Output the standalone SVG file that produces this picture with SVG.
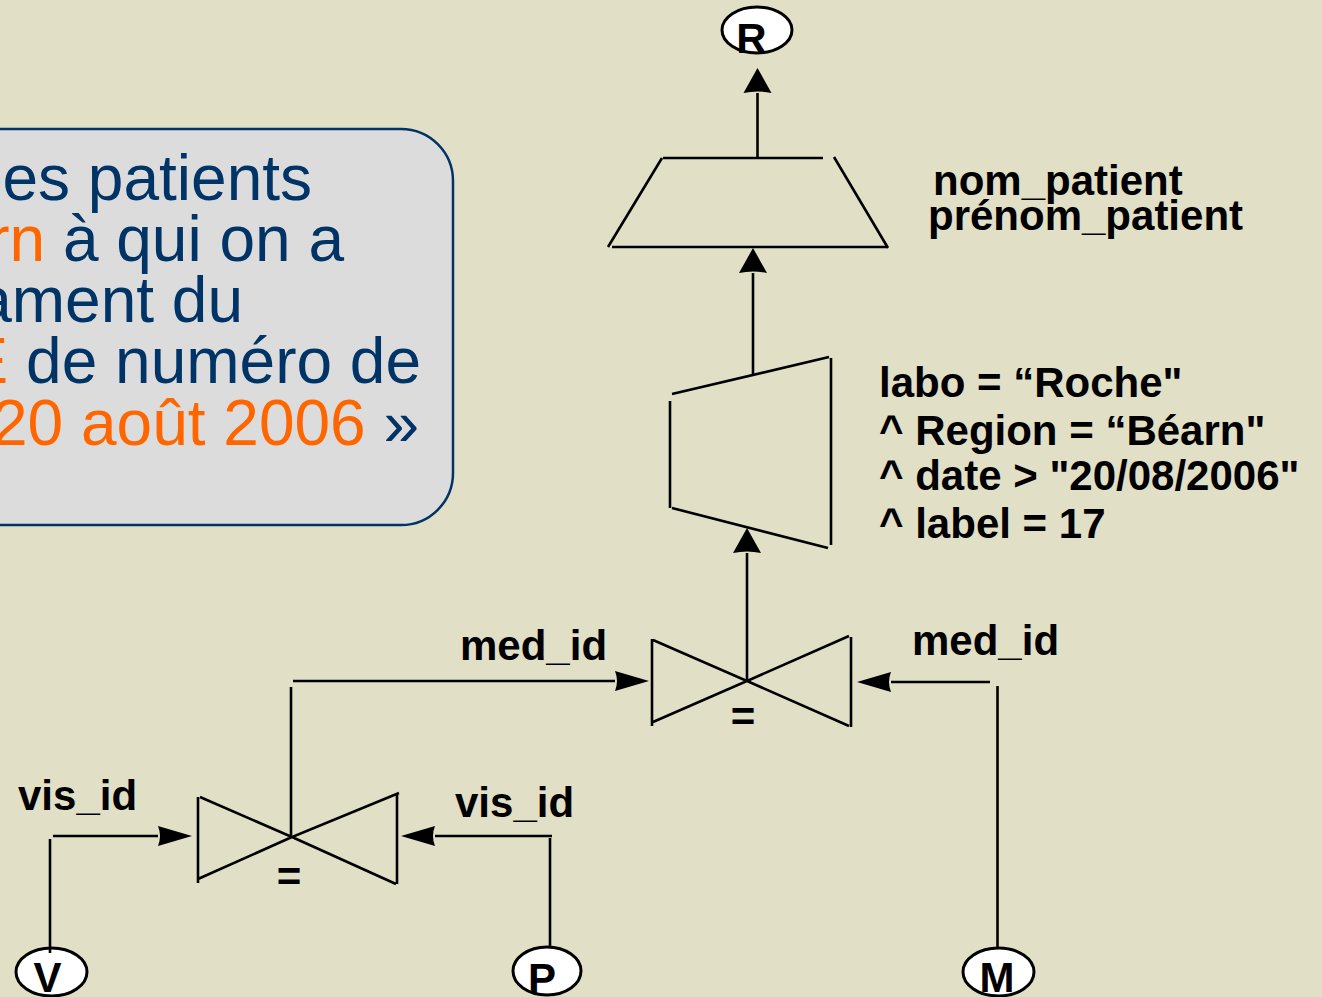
<svg xmlns="http://www.w3.org/2000/svg" width="1322" height="997" viewBox="0 0 1322 997">
<style>
.ln{stroke:#000;stroke-width:2.6;fill:none}
.rel{fill:#fff;stroke:#000;stroke-width:3}
.lbl{font-family:"Liberation Sans",Arial,sans-serif;font-weight:bold;font-size:42px;fill:#000}
.big{font-family:"Liberation Sans",Arial,sans-serif;font-size:64px;fill:#003366}
.or{fill:#FF6600}
</style>
<defs>
<marker id="ahH" markerUnits="userSpaceOnUse" markerWidth="34" markerHeight="22" viewBox="0 0 34 22" refX="0" refY="11" orient="auto" overflow="visible">
<path d="M0,1 L34,11 L0,21 Q4,11 0,1 Z" fill="#000"/>
</marker>
<marker id="ahV" markerUnits="userSpaceOnUse" markerWidth="25" markerHeight="28" viewBox="0 0 25 28" refX="0" refY="14" orient="auto" overflow="visible">
<path d="M0,0 L25,14 L0,28 Q3,14 0,0 Z" fill="#000"/>
</marker>
</defs>
<rect x="0" y="0" width="1322" height="997" fill="#E1DFC6"/>

<g id="textbox">
<rect x="-60" y="129" width="513" height="396" rx="52" ry="52" fill="#DCDCDC" stroke="#003366" stroke-width="2.5"/>
<text class="big" x="312" y="200" text-anchor="end">es patients</text>
<text class="big" x="344" y="261" text-anchor="end"><tspan class="or">rn</tspan> à qui on a</text>
<text class="big" x="243" y="322" text-anchor="end">ament du</text>
<text class="big" x="421" y="383" text-anchor="end"><tspan class="or">E</tspan> de numéro de</text>
<text class="big" x="-8" y="445"><tspan class="or">20 août 2006</tspan> »</text>
</g>

<g id="R">
<ellipse class="rel" cx="757" cy="30" rx="35" ry="23"/>
<text class="lbl" x="751.5" y="53" text-anchor="middle">R</text>
</g>

<g id="projection">
<path class="ln" d="M663,158 H823 M834,157 L888,248 M662,158 L608,247 M612,247 H888"/>
<text class="lbl" x="933" y="195">nom_patient</text>
<text class="lbl" x="928" y="230">prénom_patient</text>
</g>

<g id="selection">
<path class="ln" d="M670,401 V508 M672,394 L829,357 M831,358 V545 M672,508 L828,548"/>
<text class="lbl" x="879" y="397">labo = “Roche"</text>
<text class="lbl" x="879" y="445">^ Region = “Béarn"</text>
<text class="lbl" x="879" y="490">^ date &gt; "20/08/2006"</text>
<text class="lbl" x="879" y="538">^ label = 17</text>
</g>

<g id="join1">
<path class="ln" d="M652,639 V726 M653,640 L747,681 L653,722 M849,636 L747,681 L849,726 M851,637 V727"/>
<text class="lbl" x="743" y="731" text-anchor="middle">=</text>
</g>

<g id="join2">
<path class="ln" d="M198,797 V883 M200,797 L292,837 L198,879 M399,793 L292,837 L396,884 M397,795 V884"/>
<text class="lbl" x="289" y="891" text-anchor="middle">=</text>
</g>

<g id="V">
<ellipse class="rel" cx="51.5" cy="972" rx="35.5" ry="24"/>
<text class="lbl" x="47.5" y="992" text-anchor="middle">V</text>
</g>
<g id="P">
<ellipse class="rel" cx="547" cy="971" rx="34" ry="24"/>
<text class="lbl" x="542" y="993" text-anchor="middle">P</text>
</g>
<g id="M">
<ellipse class="rel" cx="998.5" cy="972" rx="35.5" ry="24"/>
<text class="lbl" x="997" y="992" text-anchor="middle">M</text>
</g>

<g id="connectors">
<line class="ln" x1="757.5" y1="157" x2="757.5" y2="93" marker-end="url(#ahV)"/>
<line class="ln" x1="753" y1="375" x2="753" y2="273" marker-end="url(#ahV)"/>
<line class="ln" x1="747" y1="681" x2="747" y2="553" marker-end="url(#ahV)"/>
<line class="ln" x1="293" y1="681" x2="615" y2="681" marker-end="url(#ahH)"/>
<line class="ln" x1="291" y1="687" x2="291" y2="837"/>
<line class="ln" x1="990" y1="682" x2="891" y2="682" marker-end="url(#ahH)"/>
<line class="ln" x1="997.5" y1="686" x2="997.5" y2="949"/>
<line class="ln" x1="50" y1="953" x2="50" y2="839"/>
<line class="ln" x1="53" y1="836" x2="158" y2="836" marker-end="url(#ahH)"/>
<line class="ln" x1="550" y1="947" x2="550" y2="838"/>
<line class="ln" x1="552" y1="836" x2="435" y2="836" marker-end="url(#ahH)"/>
<text class="lbl" x="18" y="810">vis_id</text>
<text class="lbl" x="455" y="817">vis_id</text>
<text class="lbl" x="460" y="660">med_id</text>
<text class="lbl" x="912" y="655">med_id</text>
</g>
</svg>
